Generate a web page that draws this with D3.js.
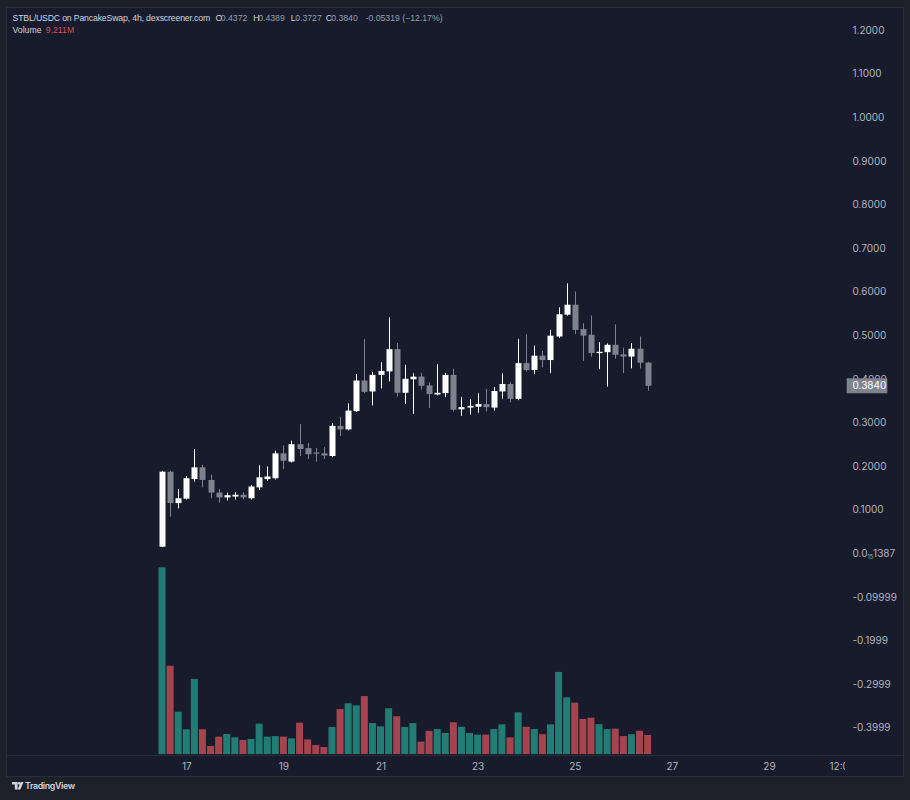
<!DOCTYPE html>
<html><head><meta charset="utf-8">
<script src="https://cdn.jsdelivr.net/npm/d3@7/dist/d3.min.js"></script>
<style>html,body{margin:0;padding:0;background:#1e212c;}svg{display:block}</style>
</head><body>
<svg id="c" width="910" height="800"></svg>
<script>
// ---- data (4h candles, STBL/USDC) ----
const startTime = "2024-11-16T12:00:00";
const opens  = [0.015,0.187,0.115,0.125,0.170,0.197,0.168,0.139,0.128,0.130,0.134,0.126,0.151,0.170,0.172,0.229,0.210,0.250,0.241,0.231,0.229,0.223,0.292,0.284,0.326,0.396,0.371,0.409,0.417,0.468,0.368,0.399,0.405,0.385,0.364,0.367,0.409,0.330,0.334,0.336,0.342,0.334,0.371,0.388,0.354,0.436,0.420,0.453,0.443,0.497,0.547,0.570,0.514,0.501,0.459,0.461,0.478,0.456,0.451,0.469,0.4372];
const highs  = [0.189,0.189,0.147,0.177,0.239,0.203,0.180,0.147,0.139,0.140,0.140,0.156,0.202,0.199,0.235,0.247,0.258,0.296,0.253,0.241,0.243,0.298,0.313,0.344,0.411,0.491,0.416,0.438,0.541,0.482,0.432,0.413,0.414,0.392,0.4335,0.413,0.423,0.358,0.353,0.367,0.377,0.381,0.413,0.392,0.4915,0.502,0.476,0.464,0.512,0.564,0.619,0.600,0.5275,0.545,0.484,0.481,0.525,0.4715,0.482,0.497,0.4389];
const lows   = [0.014,0.084,0.103,0.123,0.164,0.151,0.126,0.116,0.121,0.123,0.124,0.123,0.145,0.166,0.169,0.193,0.208,0.223,0.216,0.210,0.216,0.220,0.269,0.282,0.324,0.367,0.339,0.378,0.394,0.359,0.342,0.3195,0.375,0.333,0.362,0.358,0.325,0.315,0.318,0.322,0.325,0.327,0.354,0.346,0.351,0.4165,0.4105,0.426,0.413,0.494,0.545,0.502,0.441,0.451,0.422,0.382,0.446,0.413,0.424,0.424,0.3727];
const closes = [0.187,0.115,0.126,0.172,0.197,0.168,0.139,0.128,0.133,0.134,0.128,0.153,0.174,0.176,0.229,0.212,0.250,0.239,0.227,0.229,0.224,0.292,0.284,0.327,0.396,0.370,0.409,0.418,0.468,0.368,0.400,0.405,0.384,0.365,0.368,0.409,0.329,0.335,0.338,0.342,0.335,0.372,0.388,0.354,0.436,0.420,0.453,0.443,0.499,0.548,0.570,0.512,0.499,0.459,0.462,0.478,0.455,0.451,0.469,0.437,0.3840];
const volumesM = [90.5,42.8,20.5,12.0,36.4,12.0,3.9,8.4,9.7,8.1,6.8,7.3,14.7,8.4,8.7,8.4,7.6,15.2,7.1,4.4,3.4,13.1,21.8,24.6,23.6,28.1,15.0,13.4,22.2,18.3,13.1,15.0,6.0,11.2,12.1,10.2,15.4,13.2,10.2,9.4,9.4,12.1,14.4,8.1,20.2,13.2,12.1,9.6,14.4,39.8,27.5,24.9,17.0,17.6,14.5,12.1,12.3,8.7,9.6,11.3,9.211];
const priceTicks = [1.2,1.1,1.0,0.9,0.8,0.7,0.6,0.5,0.4,0.3,0.2,0.1,0.0,-0.1,-0.2,-0.3,-0.4];
const priceTickLabels = ["1.2000","1.1000","1.0000","0.9000","0.8000","0.7000","0.6000","0.5000","0.4000","0.3000","0.2000","0.1000","0.0|15|1387","-0.09999","-0.1999","-0.2999","-0.3999"];
const timeTicks = ["2024-11-17T00:00:00","2024-11-19T00:00:00","2024-11-21T00:00:00","2024-11-23T00:00:00","2024-11-25T00:00:00","2024-11-27T00:00:00","2024-11-29T00:00:00","2024-11-30T12:00:00"];
const timeTickLabels = ["17","19","21","23","25","27","29","12:00"];
const lastPrice = 0.3840;
const changeText = "-0.05319 (\u221212.17%)";

// ---- build ----
const t0 = new Date(startTime);
const candles = opens.map((o,i)=>({t:d3.timeHour.offset(t0,4*i),o,h:highs[i],l:lows[i],c:closes[i],v:volumesM[i]}));
const svg = d3.select("#c");
const FONT = "Inter, 'Noto Sans', sans-serif";
const HFONT = "'Liberation Sans', Arial, sans-serif";
const PANE = "#171b2c", BORDER = "#2a2e39", TXT = "#d1d4dc", AX = "#b2b5be";
const UP = "#ffffff", DOWN = "#7f828d", VUP = "#217d73", VDOWN = "#a5434f";

svg.append("rect").attr("width",910).attr("height",800).attr("fill","#1e212c");
svg.append("rect").attr("x",6.5).attr("y",7.5).attr("width",897).attr("height",769)
   .attr("fill",PANE).attr("stroke",BORDER);
svg.append("line").attr("x1",6).attr("x2",904).attr("y1",755.5).attr("y2",755.5).attr("stroke",BORDER);

const x = d3.scaleTime().domain([candles[0].t, candles[candles.length-1].t]).range([162, 647.6]);
const y = d3.scaleLinear().domain([-0.4,1.2]).range([727.6,30]);
const yv = d3.scaleLinear().domain([0,100]).range([754, 754 - 100*19/9.211]);

svg.append("clipPath").attr("id","pane").append("rect").attr("x",7).attr("y",8).attr("width",838).attr("height",768);
const g = svg.append("g").attr("clip-path","url(#pane)");

// volume
g.append("g").selectAll("rect").data(candles).join("rect")
  .attr("x",d=>x(d.t)-3.5).attr("width",7)
  .attr("y",d=>yv(d.v)).attr("height",d=>yv(0)-yv(d.v))
  .attr("fill",d=>d.c>=d.o?VUP:VDOWN);

// candles
const cg = g.append("g").selectAll("g").data(candles).join("g");
cg.append("line")
  .attr("x1",d=>Math.round(x(d.t))+0.5).attr("x2",d=>Math.round(x(d.t))+0.5)
  .attr("y1",d=>y(d.h)).attr("y2",d=>y(d.l))
  .attr("stroke",d=>d.c>=d.o?UP:DOWN).attr("stroke-width",1);
cg.append("rect")
  .attr("x",d=>Math.round(x(d.t))+0.5-3).attr("width",6)
  .attr("y",d=>y(Math.max(d.o,d.c))).attr("height",d=>Math.max(1.2,Math.abs(y(d.o)-y(d.c))))
  .attr("fill",d=>d.c>=d.o?UP:DOWN);

// time axis
const tAxis = d3.axisBottom(x).tickValues(timeTicks.map(s=>new Date(s)))
  .tickFormat((d,i)=>timeTickLabels[i]).tickSize(0).tickPadding(7.5);
const ta = g.append("g").attr("transform","translate(0,755)").call(tAxis);
ta.select(".domain").remove();
ta.selectAll("text").attr("fill",AX).style("font-family",FONT).style("font-size","10px");

// price axis
const pAxis = d3.axisRight(y).tickValues(priceTicks).tickFormat((d,i)=>priceTickLabels[i]).tickSize(0).tickPadding(6);
const pa = svg.append("g").attr("transform","translate(846.5,0)").call(pAxis);
pa.select(".domain").remove();
pa.selectAll("text").attr("fill",AX).style("font-family",FONT).style("font-size","10px")
  .each(function(){
    const s = d3.select(this).text();
    if(s.indexOf("|")>=0){
      const p = s.split("|");
      const t = d3.select(this).text("");
      t.append("tspan").text(p[0]);
      t.append("tspan").attr("dy",1.8).text(p[1]).style("font-size","5.5px");
      t.append("tspan").attr("dy",-1.8).text(p[2]);
    }
  });

// last price label
const lp = svg.append("g");
lp.append("rect").attr("x",846.7).attr("y",y(lastPrice)-7.5).attr("width",40.6).attr("height",15).attr("fill","#80838e");
lp.append("text").attr("x",852.5).attr("y",y(lastPrice)).attr("dy","0.34em").attr("fill","#ffffff")
  .style("font-family",FONT).style("font-size","10px").text(d3.format(".4f")(lastPrice));

// header legend
const last = candles[candles.length-1];
const VAL = "#9a9da6";
const hdr = svg.append("text").attr("y",20.6).style("font-family",HFONT).style("font-size","8.7px");
hdr.append("tspan").attr("x",12.5).attr("fill",TXT).style("letter-spacing","-0.15px").text("STBL/USDC on PancakeSwap, 4h, dexscreener.com");
const keyX = [215.5,253.2,290.8,325.8], valX = [220.8,258.2,295.2,331.2];
[["O",last.o],["H",last.h],["L",last.l],["C",last.c]].forEach(([k,v],i)=>{
  hdr.append("tspan").attr("x",keyX[i]).attr("fill",TXT).style("letter-spacing","0px").text(k);
  hdr.append("tspan").attr("x",valX[i]).attr("fill",VAL).text(d3.format(".4f")(v));
});
hdr.append("tspan").attr("x",365.5).attr("fill",VAL).text(changeText);
const vl = svg.append("text").attr("y",32.6).style("font-family",HFONT).style("font-size","8.7px");
vl.append("tspan").attr("x",12.5).attr("fill",TXT).text("Volume");
vl.append("tspan").attr("x",45.8).attr("fill","#d9505b").text(d3.format(".3f")(last.v)+"M");

// TradingView logo
const lg = svg.append("g").attr("fill",TXT);
lg.append("path").attr("d","M12,782 h5.6 v7.5 h-2.8 v-4.9 h-2.8 z");
lg.append("circle").attr("cx",19).attr("cy",783.3).attr("r",1.3);
lg.append("path").attr("d","M20.6,782 h2.9 l-3.1,7.5 h-2.8 z");
svg.append("text").attr("x",25).attr("y",789).attr("fill",TXT)
  .style("font-family",FONT).style("font-size","8.8px").style("font-weight","600").style("letter-spacing","-0.35px")
  .text("TradingView");
</script>
</body></html>
